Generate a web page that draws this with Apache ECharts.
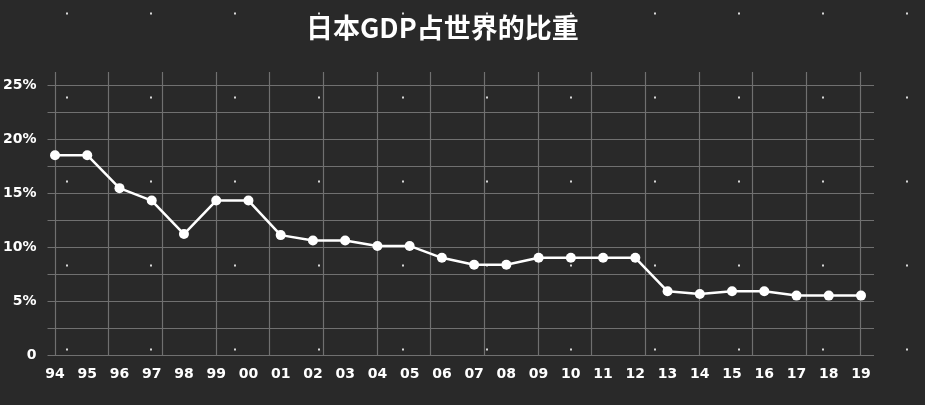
<!DOCTYPE html>
<html>
<head>
<meta charset="utf-8">
<script src="https://cdn.jsdelivr.net/npm/echarts@6/dist/echarts.min.js"></script>
<style>
html,body{margin:0;padding:0;width:925px;height:405px;overflow:hidden;}
body{background-color:#292929;
background-image:radial-gradient(circle, #d8d8d8 0.9px, rgba(0,0,0,0) 1.4px);
background-size:84px 84px;background-position:25px 55.5px;}
#c{width:925px;height:405px;}
</style>
</head>
<body>
<div id="c"></div>
<script>
var years = ['94','95','96','97','98','99','00','01','02','03','04','05','06','07','08','09','10','11','12','13','14','15','16','17','18','19'];
var share = [18.5,18.5,15.45,14.3,11.2,14.3,14.3,11.1,10.6,10.6,10.1,10.1,9.0,8.35,8.35,9.0,9.0,9.0,9.0,5.9,5.65,5.9,5.9,5.5,5.5,5.5];
var title = '日本GDP占世界的比重';

var chart = echarts.init(document.getElementById('c'));
var gridColor = '#707070';
chart.setOption({
  backgroundColor: 'transparent',
  animation: false,
  title: {
    text: title, left: 301, top: 9,
    textStyle: {color: '#ffffff', fontSize: 27, fontWeight: 'bold', fontFamily: 'Noto Sans CJK SC'}
  },
  grid: [
    {left: 45, right: 51, top: 85, bottom: 50},
    {left: 55, right: 65, top: 72, bottom: 50},
    {left: 55, right: 64, top: 85, bottom: 50}
  ],
  xAxis: [
    {gridIndex: 0, type: 'value', min: 0, max: 1, show: false},
    {gridIndex: 1, type: 'value', min: 0, max: 15, interval: 1,
     axisLine: {show: false}, axisTick: {show: false}, axisLabel: {show: false},
     splitLine: {show: true, lineStyle: {color: gridColor, width: 1.2}}},
    {gridIndex: 2, type: 'category', data: years, boundaryGap: false,
     axisLine: {show: false}, axisTick: {show: false},
     axisLabel: {color: '#ffffff', fontSize: 14, fontWeight: 'bold', fontFamily: 'DejaVu Sans', margin: 12, interval: 0}}
  ],
  yAxis: [
    {gridIndex: 0, type: 'value', min: 0, max: 25, interval: 2.5,
     axisLine: {show: false}, axisTick: {show: false},
     axisLabel: {color: '#ffffff', fontSize: 14, fontWeight: 'bold', fontFamily: 'DejaVu Sans', margin: 11,
       formatter: function (v) { if (v === 0) return '0'; return (v % 5 === 0) ? v + '%' : ''; }},
     splitLine: {show: true, lineStyle: {color: gridColor, width: 1.2}}},
    {gridIndex: 1, type: 'value', min: 0, max: 1, show: false},
    {gridIndex: 2, type: 'value', min: 0, max: 25, show: false}
  ],
  series: [{
    type: 'line', xAxisIndex: 2, yAxisIndex: 2, data: share,
    symbol: 'circle', symbolSize: 10,
    lineStyle: {color: '#ffffff', width: 2.5},
    itemStyle: {color: '#ffffff'}
  }]
});
</script>
</body>
</html>
